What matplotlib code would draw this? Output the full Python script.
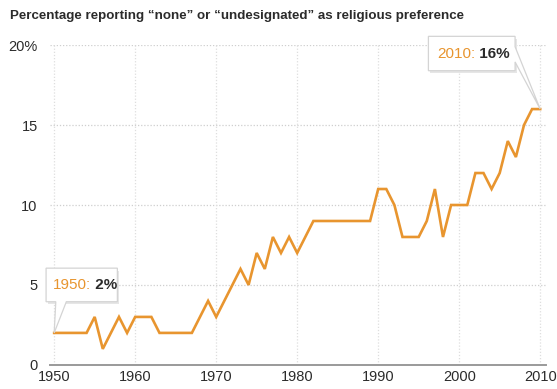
import matplotlib
matplotlib.use("Agg")
import matplotlib.pyplot as plt
from matplotlib.patches import Polygon

# share of people answering "none"/"undesignated" for religious preference
years = [1950, 1954, 1955, 1956, 1958, 1959, 1960, 1962, 1963, 1967, 1969, 1970,
         1973, 1974, 1975, 1976, 1977, 1978, 1979, 1980, 1982, 1989, 1990, 1991,
         1992, 1993, 1995, 1996, 1997, 1998, 1999, 2001, 2002, 2003, 2004, 2005,
         2006, 2007, 2008, 2009, 2010]
values = [2, 2, 3, 1, 3, 2, 3, 3, 2, 2, 4, 3,
          6, 5, 7, 6, 8, 7, 8, 7, 9, 9, 11, 11,
          10, 8, 8, 9, 11, 8, 10, 10, 12, 12, 11, 12,
          14, 13, 15, 16, 16]
x_ticks = [1950, 1960, 1970, 1980, 1990, 2000, 2010]
y_ticks = [0, 5, 10, 15, 20]
y_labels = ["0", "5", "10", "15", "20%"]
title = "Percentage reporting \u201cnone\u201d or \u201cundesignated\u201d as religious preference"

ORANGE = "#e8952f"
DARK = "#2b2b2b"

plt.rcParams["font.family"] = ["Liberation Sans", "DejaVu Sans"]

fig = plt.figure(figsize=(5.57, 3.89), dpi=100)
ax = fig.add_axes([0.09, 0.062, 0.89, 0.822])

ax.plot(years, values, color=ORANGE, lw=1.9, solid_joinstyle="miter", zorder=3)

ax.set_xlim(1949.5, 2010.7)
ax.set_ylim(0, 20)
ax.set_xticks(x_ticks)
ax.set_yticks(y_ticks)
ax.set_yticklabels(y_labels)
ax.tick_params(length=0, labelsize=10.5, labelcolor=DARK)
ax.tick_params(axis="x", pad=4)
ax.tick_params(axis="y", pad=9)

for s in ["top", "right", "left"]:
    ax.spines[s].set_visible(False)
ax.spines["bottom"].set_color("#9a9a9a")
ax.spines["bottom"].set_linewidth(1.4)

# dotted grid
for y in y_ticks[1:]:
    ax.axhline(y, color="#cfcfcf", lw=0.9, ls=(0, (1, 1.5)), zorder=1)
for x in x_ticks:
    ax.plot([x, x], [0, 20], color="#dedede", lw=0.9, ls=(0, (1, 1.5)), zorder=1)

fig.text(0.018, 0.958, title, fontsize=9.6, fontweight="bold", color=DARK,
         va="center", ha="left")


def callout(box, pointer, tip, year, val):
    x0, x1, y0, y1 = box
    (pa, pb) = pointer
    # shadow then box with pointer as one outline
    shadow = Polygon([(x0 + 0.25, y0 - 0.15), (x1 + 0.25, y0 - 0.15),
                      (x1 + 0.25, y1 - 0.15), (x0 + 0.25, y1 - 0.15)],
                     closed=True, fc="#e6e6e6", ec="none", zorder=4, clip_on=False)
    ax.add_patch(shadow)
    outline = [(x0, y1), (x1, y1)]
    if pa[1] == y0:
        outline += [(x1, y0), pb, tip, pa, (x0, y0)]
    else:
        outline += [pa, tip, pb, (x1, y0), (x0, y0)]
    ax.add_patch(Polygon(outline, closed=True, fc="white", ec="#d4d4d4",
                         lw=0.9, zorder=5, clip_on=False))
    t1 = ax.text(x0 + (x1 - x0) * 0.1, (y0 + y1) / 2, f"{year}:", color=ORANGE,
                 fontsize=11, va="center", ha="left", zorder=6)
    ax.annotate(f" {val}%", xy=(1, 0), xycoords=t1, va="bottom", ha="left",
                color=DARK, fontsize=11, fontweight="bold", zorder=6)


callout((1949.0, 1957.8, 3.95, 6.05), ((1950.2, 3.95), (1951.5, 3.95)),
        (years[0], values[0]), years[0], values[0])
callout((1996.2, 2006.9, 18.4, 20.55), ((2006.9, 19.9), (2006.9, 18.95)),
        (years[-1], values[-1]), years[-1], values[-1])

fig.savefig("out.png", dpi=100)
